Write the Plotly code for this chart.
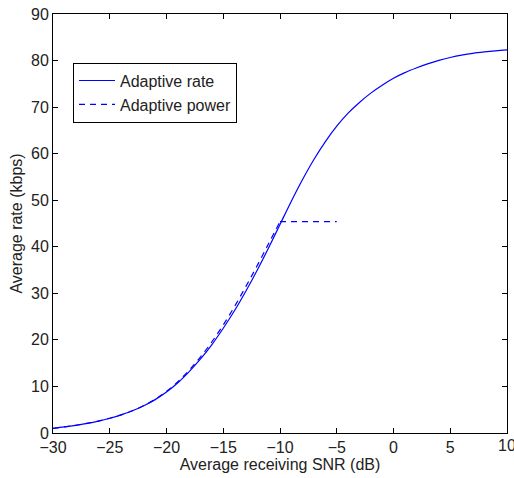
import plotly.graph_objects as go

snr = list(range(-30, 11))
rate = [1.0, 1.3, 1.65, 2.07, 2.57, 3.17, 3.89, 4.77, 5.85, 7.17, 8.8, 10.8, 13.2,
        15.9, 19.0, 22.5, 26.3, 30.5, 35.0, 39.8, 44.8, 49.8, 54.5, 58.8, 62.6,
        65.9, 68.7, 71.0, 73.0, 74.7, 76.2, 77.4, 78.4, 79.3, 80.05, 80.65, 81.15,
        81.55, 81.85, 82.1, 82.3]

snr_pow = list(range(-30, -9))
power = [1.0, 1.3, 1.65, 2.07, 2.57, 3.17, 3.89, 4.77, 5.9, 7.25, 8.95, 11.0, 13.5,
         16.35, 19.6, 23.2, 27.2, 31.5, 36.0, 40.7, 45.4]
snr_flat = [-10, -5]
power_flat = [45.4, 45.4]

x_ticks = [-30, -25, -20, -15, -10, -5, 0, 5, 10]
y_ticks = [0, 10, 20, 30, 40, 50, 60, 70, 80, 90]

blue = "#0000ff"
font_family = "Liberation Sans, Arial"
txt_color = "#222222"
fig = go.Figure()
fig.add_trace(go.Scatter(x=snr, y=rate, mode="lines", name="Adaptive rate",
                         line=dict(color=blue, width=1.2, shape="spline", smoothing=1.0)))
fig.add_trace(go.Scatter(x=snr_pow, y=power, mode="lines", name="Adaptive power",
                         line=dict(color=blue, width=1.2, dash="6px,5px", shape="spline", smoothing=1.0)))
fig.add_trace(go.Scatter(x=snr_flat, y=power_flat, mode="lines", showlegend=False,
                         line=dict(color=blue, width=1.2, dash="6px,5px")))

axis_common = dict(showgrid=False, zeroline=False, showline=True, linecolor="black", linewidth=1,
                   mirror="ticks", ticks="inside", ticklen=5, tickcolor="black",
                   tickfont=dict(family=font_family, size=16, color=txt_color))
# last x tick label drawn as annotation so it is clipped by the page edge like the original
x_text = [f"{v}".replace("-", "\u2212") for v in x_ticks[:-1]] + [""]
fig.update_xaxes(range=[-30, 10], tickmode="array", tickvals=x_ticks, ticktext=x_text,
                 title=dict(text="Average receiving SNR (dB)", standoff=0,
                            font=dict(family=font_family, size=16, color=txt_color)),
                 **axis_common)
fig.update_yaxes(range=[0, 90], tickmode="array", tickvals=y_ticks,
                 ticklabeloverflow="allow",
                 title=dict(text="Average rate (kbps)", standoff=4,
                            font=dict(family=font_family, size=16, color=txt_color)),
                 **axis_common)
fig.add_annotation(x=x_ticks[-1], y=0, xref="x", yref="y", text=str(x_ticks[-1]),
                   showarrow=False, yanchor="top", xanchor="center", yshift=-2,
                   font=dict(family=font_family, size=16, color=txt_color))
fig.update_layout(width=514, height=478, margin=dict(l=53, r=6, t=8, b=45),
                  plot_bgcolor="white", paper_bgcolor="white",
                  legend=dict(x=0.044, y=0.884, xanchor="left", yanchor="top",
                              bordercolor="black", borderwidth=1, bgcolor="white",
                              font=dict(family=font_family, size=16, color=txt_color),
                              tracegroupgap=0, itemwidth=36))
fig.write_html("out.html")
